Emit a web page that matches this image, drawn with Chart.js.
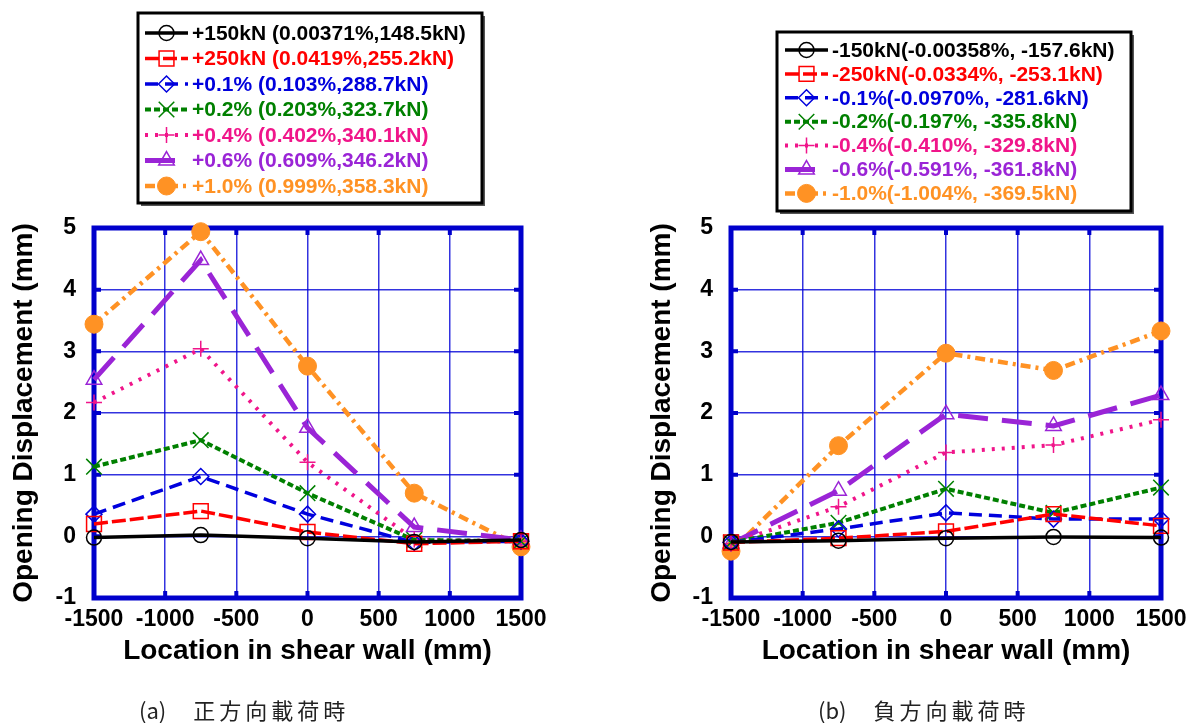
<!DOCTYPE html>
<html>
<head>
<meta charset="utf-8">
<script src="https://cdn.jsdelivr.net/npm/chart.js@4.4.1/dist/chart.umd.min.js"></script>
<style>
  html, body { margin: 0; padding: 0; background: #fff; }
  #wrap { position: relative; width: 1189px; height: 723px; overflow: hidden; background: #fff; }
  canvas { position: absolute; top: 0; }
  #cA { left: 0; }
  #cB { left: 594px; }
  .cap { position: absolute; top: 694px; font-family: "Noto Sans CJK JP"; font-size: 22px; line-height: 30px; color: #222; white-space: pre; }
  .cap span { letter-spacing: 4px; }
</style>
</head>
<body>
<div id="wrap">
  <canvas id="cA" width="594" height="723"></canvas>
  <canvas id="cB" width="610" height="723"></canvas>
  <div class="cap" style="left:139px">(a)　 <span>正方向載荷時</span></div>
  <div class="cap" style="left:818px">(b)　 <span>負方向載荷時</span></div>
</div>
<script>
// ---- data ----------------------------------------------------------------
const locations = [-1500, -750, 0, 750, 1500];           // measuring points (mm)
const xTickValues = [-1500, -1000, -500, 0, 500, 1000, 1500];
const xTickLabels = ['-1500', '-1000', '-500', '0', '500', '1000', '1500'];
const yTickValues = [-1, 0, 1, 2, 3, 4, 5];
const yTickLabels = ['-1', '0', '1', '2', '3', '4', '5'];

// (a) positive loading
const posLabels = [
  '+150kN (0.00371%,148.5kN)',
  '+250kN (0.0419%,255.2kN)',
  '+0.1% (0.103%,288.7kN)',
  '+0.2% (0.203%,323.7kN)',
  '+0.4% (0.402%,340.1kN)',
  '+0.6% (0.609%,346.2kN)',
  '+1.0% (0.999%,358.3kN)'
];
const pos150kN = [-0.02, 0.02, -0.03, -0.09, -0.06];
const pos250kN = [0.20, 0.41, 0.07, -0.12, -0.08];
const pos01    = [0.36, 0.97, 0.36, -0.10, -0.08];
const pos02    = [1.13, 1.56, 0.70, -0.06, -0.08];
const pos04    = [2.17, 3.04, 1.20, -0.05, -0.08];
const pos06    = [2.54, 4.48, 1.76, 0.15, -0.06];
const pos10    = [3.44, 4.94, 2.76, 0.70, -0.17];

// (b) negative loading
const negLabels = [
  '-150kN(-0.00358%, -157.6kN)',
  '-250kN(-0.0334%, -253.1kN)',
  '-0.1%(-0.0970%, -281.6kN)',
  '-0.2%(-0.197%, -335.8kN)',
  '-0.4%(-0.410%, -329.8kN)',
  '-0.6%(-0.591%, -361.8kN)',
  '-1.0%(-1.004%, -369.5kN)'
];
const neg150kN = [-0.09, -0.07, -0.03, -0.01, -0.02];
const neg250kN = [-0.10, -0.03, 0.08, 0.36, 0.17];
const neg01    = [-0.10, 0.12, 0.38, 0.28, 0.28];
const neg02    = [-0.10, 0.22, 0.77, 0.38, 0.79];
const neg04    = [-0.12, 0.48, 1.36, 1.48, 1.89];
const neg06    = [-0.12, 0.74, 1.98, 1.79, 2.29];
const neg10    = [-0.24, 1.47, 2.97, 2.69, 3.33];

// ---- styling ---------------------------------------------------------------
const AXIS_BLUE = '#0000CC';
const FONT = '"Liberation Sans", Arial, Helvetica, sans-serif';
const seriesStyles = [
  { color: '#000000', dash: [],            width: 3.5, point: 'circle',   radius: 7.5, filled: false },
  { color: '#FF0000', dash: [14, 4],       width: 3.5, point: 'rect',     radius: 10.5, filled: false },
  { color: '#0000DD', dash: [13, 7],       width: 3.5, point: 'rectRot',  radius: 8,   filled: false },
  { color: '#008000', dash: [6, 3],        width: 4,   point: 'crossRot', radius: 11,  filled: false },
  { color: '#F0158A', dash: [3, 7],        width: 4,   point: 'cross',    radius: 8,   filled: false },
  { color: '#9A24D6', dash: [30, 14],      width: 5,   point: 'triangle', radius: 9,   filled: false },
  { color: '#FF9224', dash: [10, 5, 3, 5], width: 4.5, point: 'circle',   radius: 9,   filled: true }
];

function buildDatasets(labels, seriesList) {
  return seriesList.map((values, i) => {
    const s = seriesStyles[i];
    return {
      label: labels[i],
      data: locations.map((x, k) => ({ x: x, y: values[k] })),
      borderColor: s.color,
      borderWidth: s.width,
      borderDash: s.dash,
      pointStyle: s.point,
      pointRadius: s.radius,
      pointHoverRadius: s.radius,
      pointBorderColor: s.color,
      pointBackgroundColor: s.filled ? s.color : 'rgba(255,255,255,0)',
      pointBorderWidth: s.filled ? 1 : 1.5,
      tension: 0,
      fill: false,
      clip: false
    };
  });
}

// marker drawing for the legend keys
function drawMarker(ctx, style, r, x, y) {
  ctx.beginPath();
  if (style === 'circle') {
    ctx.arc(x, y, r, 0, Math.PI * 2);
  } else if (style === 'rect') {
    const h = Math.SQRT1_2 * r;
    ctx.rect(x - h, y - h, 2 * h, 2 * h);
  } else if (style === 'rectRot') {
    ctx.moveTo(x - r, y); ctx.lineTo(x, y - r); ctx.lineTo(x + r, y); ctx.lineTo(x, y + r); ctx.closePath();
  } else if (style === 'triangle') {
    ctx.moveTo(x, y - r);
    ctx.lineTo(x + r * Math.sin(Math.PI * 2 / 3), y - r * Math.cos(Math.PI * 2 / 3));
    ctx.lineTo(x + r * Math.sin(Math.PI * 4 / 3), y - r * Math.cos(Math.PI * 4 / 3));
    ctx.closePath();
  } else if (style === 'cross') {
    ctx.moveTo(x, y - r); ctx.lineTo(x, y + r); ctx.moveTo(x - r, y); ctx.lineTo(x + r, y);
  } else if (style === 'crossRot') {
    const d = Math.SQRT1_2 * r;
    ctx.moveTo(x - d, y - d); ctx.lineTo(x + d, y + d); ctx.moveTo(x + d, y - d); ctx.lineTo(x - d, y + d);
  }
  if (style !== 'cross' && style !== 'crossRot') ctx.fill();
  ctx.stroke();
}

// blue frame with inward tick stubs, and the boxed key above the plot
const framePlugin = {
  id: 'frame',
  beforeDatasetsDraw(chart) {
    const { ctx, chartArea: a, scales } = chart;
    ctx.save();
    ctx.strokeStyle = AXIS_BLUE;
    ctx.lineWidth = 5;
    ctx.strokeRect(a.left, a.top, a.right - a.left, a.bottom - a.top);
    ctx.lineWidth = 4;
    ctx.beginPath();
    scales.x.ticks.forEach(t => {
      const px = scales.x.getPixelForValue(t.value);
      ctx.moveTo(px, a.top); ctx.lineTo(px, a.top + 7);
      ctx.moveTo(px, a.bottom); ctx.lineTo(px, a.bottom - 7);
    });
    scales.y.ticks.forEach(t => {
      const py = scales.y.getPixelForValue(t.value);
      ctx.moveTo(a.left, py); ctx.lineTo(a.left + 7, py);
      ctx.moveTo(a.right, py); ctx.lineTo(a.right - 7, py);
    });
    ctx.stroke();
    ctx.restore();
  },
  afterDraw(chart, args, opts) {
    const box = opts.box;
    if (!box) return;
    const ctx = chart.ctx;
    ctx.save();
    ctx.fillStyle = '#555';
    ctx.fillRect(box.x + 3, box.y + 3, box.w, box.h);
    ctx.fillStyle = '#fff';
    ctx.fillRect(box.x, box.y, box.w, box.h);
    ctx.lineWidth = 3;
    ctx.strokeStyle = '#000';
    ctx.strokeRect(box.x, box.y, box.w, box.h);
    chart.data.datasets.forEach((ds, i) => {
      const y = box.rowY + i * box.rowGap;
      ctx.save();
      ctx.strokeStyle = ds.borderColor;
      ctx.lineWidth = ds.borderWidth;
      ctx.setLineDash(ds.borderDash);
      ctx.beginPath();
      ctx.moveTo(box.lineX0, y);
      ctx.lineTo(box.lineX1, y);
      ctx.stroke();
      ctx.setLineDash([]);
      ctx.strokeStyle = ds.pointBorderColor;
      ctx.fillStyle = ds.pointBackgroundColor;
      ctx.lineWidth = ds.pointBorderWidth;
      drawMarker(ctx, ds.pointStyle, ds.pointRadius, (box.lineX0 + box.lineX1) / 2, y);
      ctx.restore();
      ctx.fillStyle = ds.borderColor;
      ctx.font = 'bold 21px ' + FONT;
      ctx.textBaseline = 'middle';
      ctx.textAlign = 'left';
      ctx.fillText(ds.label, box.textX, y + 1);
    });
    ctx.restore();
  }
};

function makeChart(canvasId, labels, series, layout, box) {
  return new Chart(document.getElementById(canvasId), {
    type: 'line',
    data: { datasets: buildDatasets(labels, series) },
    plugins: [framePlugin],
    options: {
      responsive: false,
      animation: false,
      events: [],
      layout: { padding: layout.padding },
      plugins: {
        legend: { display: false },
        tooltip: { enabled: false },
        frame: { box: box }
      },
      scales: {
        x: {
          type: 'linear',
          min: -1500, max: 1500,
          afterBuildTicks: s => { s.ticks = xTickValues.map(v => ({ value: v })); },
          afterFit: s => { s.height = layout.xHeight; },
          ticks: {
            callback: (v, i) => xTickLabels[i],
            color: '#000', padding: 8, maxRotation: 0, autoSkip: false,
            font: { family: FONT, size: 23, weight: 'bold' }
          },
          grid: { color: 'rgba(0,0,215,0.8)', lineWidth: 1.5, drawTicks: false },
          border: { display: false },
          title: {
            display: true, text: 'Location in shear wall (mm)', color: '#000',
            padding: { top: 0, bottom: 2 },
            font: { family: FONT, size: 28, weight: 'bold' }
          }
        },
        y: {
          type: 'linear',
          min: -1, max: 5,
          afterBuildTicks: s => { s.ticks = yTickValues.map(v => ({ value: v })); },
          afterFit: s => { s.width = layout.yWidth; },
          ticks: {
            callback: (v, i) => yTickLabels[i],
            color: '#000', padding: 18, autoSkip: false,
            font: { family: FONT, size: 23, weight: 'bold' }
          },
          grid: { color: 'rgba(0,0,215,0.8)', lineWidth: 1.5, drawTicks: false },
          border: { display: false },
          title: {
            display: true, text: 'Opening Displacement (mm)', color: '#000',
            padding: { top: 7, bottom: 0 },
            font: { family: FONT, size: 28, weight: 'bold' }
          }
        }
      }
    }
  });
}

makeChart('cA',
  posLabels,
  [pos150kN, pos250kN, pos01, pos02, pos04, pos06, pos10],
  { padding: { left: 0, right: 73, top: 228, bottom: 53 }, yWidth: 94, xHeight: 72 },
  { x: 138, y: 13, w: 344, h: 190, rowY: 33, rowGap: 25.5, lineX0: 145, lineX1: 188, textX: 192 }
);

makeChart('cB',
  negLabels,
  [neg150kN, neg250kN, neg01, neg02, neg04, neg06, neg10],
  { padding: { left: 44, right: 43, top: 228, bottom: 53 }, yWidth: 93, xHeight: 72 },
  { x: 183, y: 32, w: 354, h: 179, rowY: 50, rowGap: 23.9, lineX0: 191, lineX1: 234, textX: 238 }
);
</script>
</body>
</html>
